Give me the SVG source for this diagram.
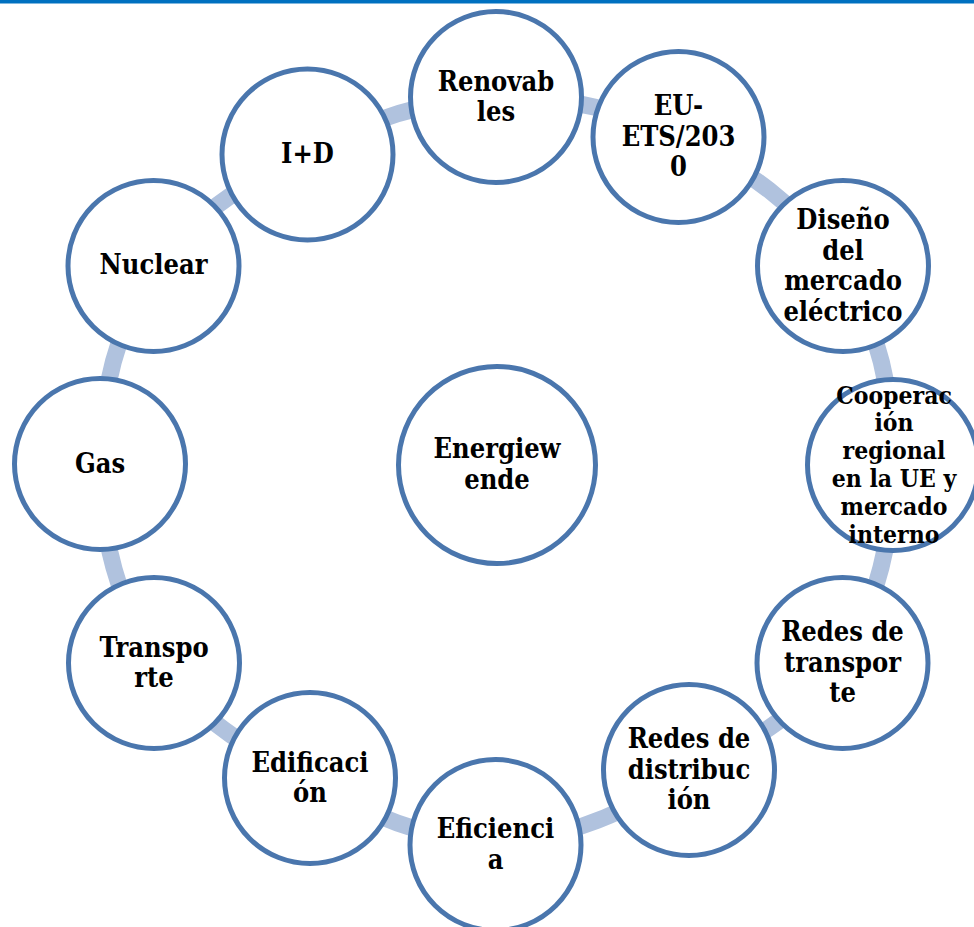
<svg xmlns="http://www.w3.org/2000/svg" width="974" height="927" viewBox="0 0 974 927">
<style>
.node circle{fill:#ffffff;stroke:#4a76ad;stroke-width:5}
.node text{font-family:"DejaVu Serif Condensed","DejaVu Serif",serif;font-stretch:condensed;font-weight:bold;font-size:27px;fill:#000;text-anchor:middle}
.node text.small{font-size:24.5px}
.conn path{fill:none;stroke:#b0c2de;stroke-width:17}
</style>
<rect x="0" y="0" width="974" height="927" fill="#ffffff"/>
<rect x="0" y="0" width="974" height="3.5" fill="#0070c0"/>
<g id="connectors" class="conn">
<path d="M496 97 A395 395 0 0 1 678.5 137"/>
<path d="M678.5 137 A395 395 0 0 1 843 266"/>
<path d="M843 266 A395 395 0 0 1 893 465"/>
<path d="M893 465 A395 395 0 0 1 842.5 663"/>
<path d="M842.5 663 A395 395 0 0 1 689 770"/>
<path d="M689 770 A395 395 0 0 1 495.5 845"/>
<path d="M495.5 845 A395 395 0 0 1 310 778"/>
<path d="M310 778 A395 395 0 0 1 154 663"/>
<path d="M154 663 A395 395 0 0 1 100 464"/>
<path d="M100 464 A395 395 0 0 1 153.5 266"/>
<path d="M153.5 266 A395 395 0 0 1 307.5 154.5"/>
<path d="M307.5 154.5 A395 395 0 0 1 496 97"/>
</g>
<g id="energiewende" class="node">
<circle cx="497" cy="465" r="98.5"/>
<text x="497" y="458">Energiew</text>
<text x="497" y="488.5">ende</text>
</g>
<g id="renovables" class="node">
<circle cx="496" cy="97" r="85.5"/>
<text x="496" y="90.5">Renovab</text>
<text x="496" y="121">les</text>
</g>
<g id="eu-ets" class="node">
<circle cx="678.5" cy="137" r="85.5"/>
<text x="678.5" y="115">EU-</text>
<text x="678.5" y="145.5">ETS/203</text>
<text x="678.5" y="176">0</text>
</g>
<g id="diseno" class="node">
<circle cx="843" cy="266" r="85.5"/>
<text x="843" y="229">Diseño</text>
<text x="843" y="259.5">del</text>
<text x="843" y="290">mercado</text>
<text x="843" y="320.5">eléctrico</text>
</g>
<g id="cooperacion" class="node">
<circle cx="893" cy="465" r="85.5"/>
<text class="small" x="894" y="403.5">Cooperac</text>
<text class="small" x="894" y="431.3">ión</text>
<text class="small" x="894" y="459.1">regional</text>
<text class="small" x="894" y="486.9">en la UE y</text>
<text class="small" x="894" y="514.7">mercado</text>
<text class="small" x="894" y="542.5">interno</text>
</g>
<g id="redes-transporte" class="node">
<circle cx="842.5" cy="663" r="85.5"/>
<text x="842.5" y="641">Redes de</text>
<text x="842.5" y="671.5">transpor</text>
<text x="842.5" y="702">te</text>
</g>
<g id="redes-distribucion" class="node">
<circle cx="689" cy="770" r="85.5"/>
<text x="689" y="748">Redes de</text>
<text x="689" y="778.5">distribuc</text>
<text x="689" y="809">ión</text>
</g>
<g id="eficiencia" class="node">
<circle cx="495.5" cy="845" r="85.5"/>
<text x="495.5" y="838">Eficienci</text>
<text x="495.5" y="868.5">a</text>
</g>
<g id="edificacion" class="node">
<circle cx="310" cy="778" r="85.5"/>
<text x="310" y="771.5">Edificaci</text>
<text x="310" y="802">ón</text>
</g>
<g id="transporte" class="node">
<circle cx="154" cy="663" r="85.5"/>
<text x="154" y="656.5">Transpo</text>
<text x="154" y="687">rte</text>
</g>
<g id="gas" class="node">
<circle cx="100" cy="464" r="85.5"/>
<text x="100" y="472.5">Gas</text>
</g>
<g id="nuclear" class="node">
<circle cx="153.5" cy="266" r="85.5"/>
<text x="153.5" y="274">Nuclear</text>
</g>
<g id="i-d" class="node">
<circle cx="307.5" cy="154.5" r="85.5"/>
<text x="307.5" y="163">I+D</text>
</g>
</svg>
